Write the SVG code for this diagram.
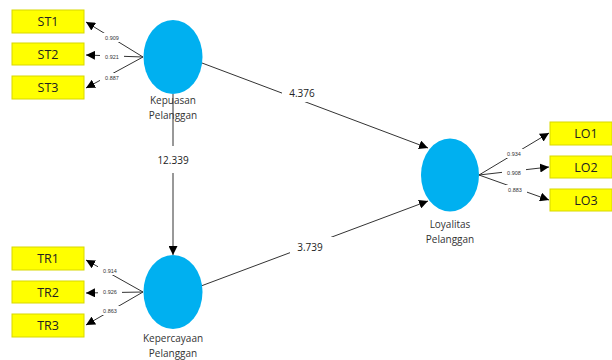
<svg xmlns="http://www.w3.org/2000/svg" width="612" height="360" viewBox="0 0 612 360">
<defs>
<marker id="ah" viewBox="0 0 10 10" refX="10" refY="5" markerWidth="9" markerHeight="9" markerUnits="userSpaceOnUse" orient="auto">
<path d="M0,0 L10,5 L0,10 z" fill="#000"/>
</marker>
<style>
.box{fill:#ffff00;stroke:#d8d800;stroke-width:1}
.bt{font-family:"Open Sans","Liberation Sans",sans-serif;font-size:12.5px;fill:#222;text-anchor:middle}
.lv{fill:#00b0f0}
.nl{font-family:"Open Sans","Liberation Sans",sans-serif;font-size:10px;fill:#333;text-anchor:middle}
.ln{stroke:#333;stroke-width:1;fill:none;marker-end:url(#ah)}
.gap{fill:#fff}
.pl{font-family:"Open Sans","Liberation Sans",sans-serif;font-size:10px;fill:#222;text-anchor:middle}
.sl{font-family:"Liberation Sans",sans-serif;font-size:5.5px;fill:#333;text-anchor:middle}
</style>
</defs>
<rect width="612" height="360" fill="#fff"/>
<g id="connectors">
<line class="ln" x1="143" y1="57" x2="86" y2="22"/>
<line class="ln" x1="143" y1="57" x2="86" y2="55"/>
<line class="ln" x1="143" y1="57" x2="86" y2="88"/>
<line class="ln" x1="143" y1="292" x2="86" y2="260"/>
<line class="ln" x1="143" y1="292" x2="86" y2="293"/>
<line class="ln" x1="143" y1="292" x2="86" y2="325"/>
<line class="ln" x1="479" y1="175" x2="549" y2="133"/>
<line class="ln" x1="479" y1="175" x2="549" y2="167"/>
<line class="ln" x1="479" y1="175" x2="549" y2="200"/>
<line class="ln" x1="202" y1="63" x2="428" y2="148"/>
<line class="ln" x1="173" y1="94" x2="173" y2="255"/>
<line class="ln" x1="201" y1="286" x2="428" y2="201"/>
<rect class="gap" x="100" y="33" width="24" height="9"/>
<rect class="gap" x="100" y="52" width="24" height="9"/>
<rect class="gap" x="100" y="73" width="24" height="9"/>
<rect class="gap" x="98" y="266" width="24" height="9"/>
<rect class="gap" x="98" y="287" width="24" height="9"/>
<rect class="gap" x="98" y="306" width="24" height="9"/>
<rect class="gap" x="502" y="149" width="24" height="9"/>
<rect class="gap" x="502" y="168" width="24" height="9"/>
<rect class="gap" x="503" y="185" width="24" height="9"/>
<rect class="gap" x="282" y="84" width="42" height="18"/>
<rect class="gap" x="153" y="146" width="40" height="27"/>
<rect class="gap" x="290" y="237" width="44" height="20"/>
<text class="sl" x="112" y="40">0.909</text>
<text class="sl" x="112" y="59">0.921</text>
<text class="sl" x="112" y="80">0.887</text>
<text class="sl" x="110" y="273">0.914</text>
<text class="sl" x="110" y="294">0.926</text>
<text class="sl" x="110" y="313">0.863</text>
<text class="sl" x="514" y="156">0.934</text>
<text class="sl" x="514" y="175">0.908</text>
<text class="sl" x="515" y="192">0.883</text>
<text class="pl" x="302" y="97">4.376</text>
<text class="pl" x="173" y="164">12.339</text>
<text class="pl" x="310" y="251">3.739</text>
</g>
<g id="ST1"><rect class="box" x="12" y="10" width="72" height="23"/><text class="bt" x="48" y="26">ST1</text></g>
<g id="ST2"><rect class="box" x="12" y="43" width="72" height="22"/><text class="bt" x="48" y="59">ST2</text></g>
<g id="ST3"><rect class="box" x="12" y="76" width="72" height="23"/><text class="bt" x="48" y="92">ST3</text></g>
<g id="TR1"><rect class="box" x="12" y="247" width="72" height="23"/><text class="bt" x="48" y="263">TR1</text></g>
<g id="TR2"><rect class="box" x="12" y="281" width="72" height="22"/><text class="bt" x="48" y="297">TR2</text></g>
<g id="TR3"><rect class="box" x="12" y="314" width="72" height="23"/><text class="bt" x="48" y="330">TR3</text></g>
<g id="LO1"><rect class="box" x="550" y="122" width="62" height="23"/><text class="bt" x="586" y="138">LO1</text></g>
<g id="LO2"><rect class="box" x="550" y="156" width="62" height="22"/><text class="bt" x="586" y="172">LO2</text></g>
<g id="LO3"><rect class="box" x="550" y="189" width="62" height="22"/><text class="bt" x="586" y="205">LO3</text></g>
<g id="kepuasan"><ellipse class="lv" cx="173" cy="57" rx="29.5" ry="37"/><text class="nl" x="173" y="104">Kepuasan</text><text class="nl" x="173" y="119">Pelanggan</text></g>
<g id="kepercayaan"><ellipse class="lv" cx="173" cy="292" rx="29.5" ry="37"/><text class="nl" x="173" y="342">Kepercayaan</text><text class="nl" x="173" y="357">Pelanggan</text></g>
<g id="loyalitas"><ellipse class="lv" cx="450" cy="175" rx="29" ry="36.5"/><text class="nl" x="450" y="228">Loyalitas</text><text class="nl" x="450" y="243">Pelanggan</text></g>
</svg>
